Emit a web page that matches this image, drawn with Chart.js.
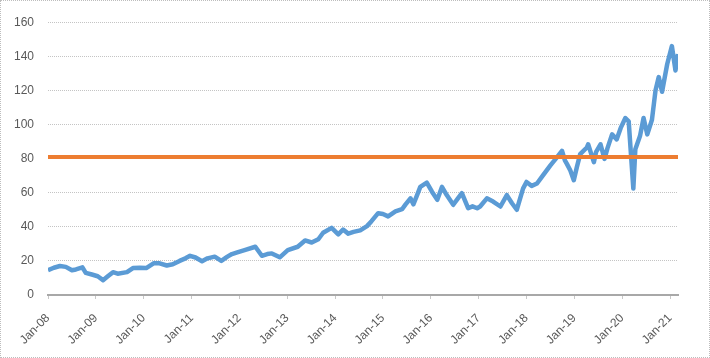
<!DOCTYPE html>
<html>
<head>
<meta charset="utf-8">
<script src="https://cdn.jsdelivr.net/npm/chart.js@4/dist/chart.umd.min.js"></script>
<style>
  html, body { margin: 0; padding: 0; background: #fff; }
  #wrap { width: 708px; height: 356px; border: 1px dotted #bdbdbd; position: relative; }
  canvas { display: block; }
</style>
</head>
<body>
<div id="wrap"><canvas id="c" width="708" height="356"></canvas></div>
<script>
// ---- data ----
const tickLabels = ["Jan-08","Jan-09","Jan-10","Jan-11","Jan-12","Jan-13","Jan-14","Jan-15","Jan-16","Jan-17","Jan-18","Jan-19","Jan-20","Jan-21"];

const dates = [
  "2008-01-01","2008-02-15","2008-04-01","2008-05-15","2008-07-01","2008-08-01","2008-09-20","2008-10-15","2008-12-01",
  "2009-01-15","2009-02-25","2009-04-01","2009-05-10","2009-06-15","2009-08-25","2009-10-10","2009-12-01",
  "2010-01-20","2010-03-15","2010-05-01","2010-06-25","2010-08-10","2010-10-01","2010-11-15","2010-12-20",
  "2011-02-01","2011-03-20","2011-05-01","2011-06-25","2011-08-15","2011-10-01","2011-11-05","2011-12-15",
  "2012-02-10","2012-05-01","2012-06-20","2012-08-01","2012-09-05","2012-11-05",
  "2013-01-05","2013-03-20","2013-05-15","2013-07-05","2013-08-25","2013-10-01","2013-12-05",
  "2014-01-25","2014-03-01","2014-04-10","2014-05-20","2014-07-10","2014-09-01","2014-10-05","2014-11-25",
  "2015-01-01","2015-02-10","2015-04-05","2015-05-25","2015-06-20","2015-07-28","2015-08-20","2015-09-15","2015-10-12","2015-12-01",
  "2016-01-10","2016-02-20","2016-03-25","2016-05-01","2016-06-20","2016-07-28","2016-08-25","2016-10-12","2016-11-15","2016-12-20",
  "2017-01-12","2017-03-03","2017-04-20","2017-06-15","2017-08-03","2017-09-12","2017-10-18","2017-12-05",
  "2018-01-01","2018-02-10","2018-03-20","2018-05-05","2018-07-01","2018-08-20","2018-09-28","2018-10-20","2018-11-05","2018-12-01","2018-12-27",
  "2019-01-20","2019-02-15","2019-04-05","2019-04-15","2019-05-28","2019-06-15","2019-07-18","2019-08-18","2019-09-10","2019-10-15","2019-11-20","2019-12-20",
  "2020-01-25","2020-02-20","2020-03-25","2020-04-10","2020-05-15","2020-06-12","2020-07-10","2020-08-15","2020-09-12","2020-10-06","2020-11-01","2020-12-10",
  "2021-01-15","2021-02-12","2021-03-01"
];

const prices = [
  14.5,16,17,16.5,14.5,15,16.2,13,12,
  11,8.7,11,13.4,12.5,13.4,15.8,16,
  15.8,18.6,18.6,17.3,18,20,21.5,23,
  22,19.8,21.5,22.5,20,22.5,24,25,
  26.3,28.3,23,24,24.4,22.1,
  26.3,28.3,32,30.8,32.7,36.5,39.4,
  35.6,38.4,36,37,37.9,40.4,43.3,48,
  47.5,46.1,49,50.3,53,56.7,53.2,58,63.4,65.9,
  60.6,55.8,63.4,58.6,52.9,57,59.7,50.9,52,50.9,
  51.9,56.7,54.8,51.9,58.6,53.8,50,62.4,
  66.3,64,65.4,70.2,76,80.7,84.6,79,76.9,73,67.3,
  75,82.6,86.5,88.4,77.9,84,88.4,79.8,86,94.2,91.3,98,
  103.8,101.9,62.4,85.5,93.2,103.8,94.2,102.8,120.1,127.8,119.2,135.5,
  146,131.7,141.3
];

const thresholdValue = 81;
const yTicks = [0,20,40,60,80,100,120,140,160];

// ---- build library data ----
function monthIndex(s) {
  const p = s.split('-').map(Number);
  return (p[0] - 2008) * 12 + (p[1] - 1) + (p[2] - 1) / 30;
}
const seriesPts = dates.map((d, i) => ({ x: monthIndex(d), y: prices[i] }));
const xMax = monthIndex("2021-03-01");
const thresholdPts = [{ x: 0, y: thresholdValue }, { x: xMax, y: thresholdValue }];

const txt = '#595959';
const fontFam = '"Liberation Sans", Arial, sans-serif';

new Chart(document.getElementById('c'), {
  type: 'line',
  data: {
    datasets: [
      { data: thresholdPts, borderColor: '#ED7D31', borderWidth: 4, pointRadius: 0, tension: 0 },
      { data: seriesPts, borderColor: '#5B9BD5', borderWidth: 4.5, pointRadius: 0, tension: 0, borderJoinStyle: 'round' }
    ]
  },
  options: {
    responsive: false,
    animation: false,
    events: [],
    layout: { padding: { top: 16, right: 31, left: 0, bottom: 0 } },
    plugins: { legend: { display: false }, tooltip: { enabled: false } },
    scales: {
      x: {
        type: 'linear',
        min: 0,
        max: xMax,
        afterFit: (s) => { s.height = 62; },
        afterBuildTicks: (s) => { s.ticks = tickLabels.map((l, i) => ({ value: i * 12 })); },
        ticks: {
          autoSkip: false,
          maxRotation: 45,
          minRotation: 45,
          color: txt,
          font: { family: fontFam, size: 12 },
          padding: 12,
          callback: (v) => tickLabels[Math.round(v / 12)]
        },
        grid: { display: true, drawOnChartArea: false, drawTicks: true, tickLength: 4, color: '#c8c8c8' },
        border: { display: true, color: '#a8a8a8', width: 2 }
      },
      y: {
        min: 0,
        max: 160,
        afterFit: (s) => { s.width = 47; },
        afterBuildTicks: (s) => { s.ticks = yTicks.map(v => ({ value: v })); },
        ticks: { color: txt, font: { family: fontFam, size: 12 }, padding: 14 },
        grid: { color: '#c4c4c4', lineWidth: 1, drawTicks: false },
        border: { display: false, dash: [1, 1] }
      }
    }
  }
});
</script>
</body>
</html>
